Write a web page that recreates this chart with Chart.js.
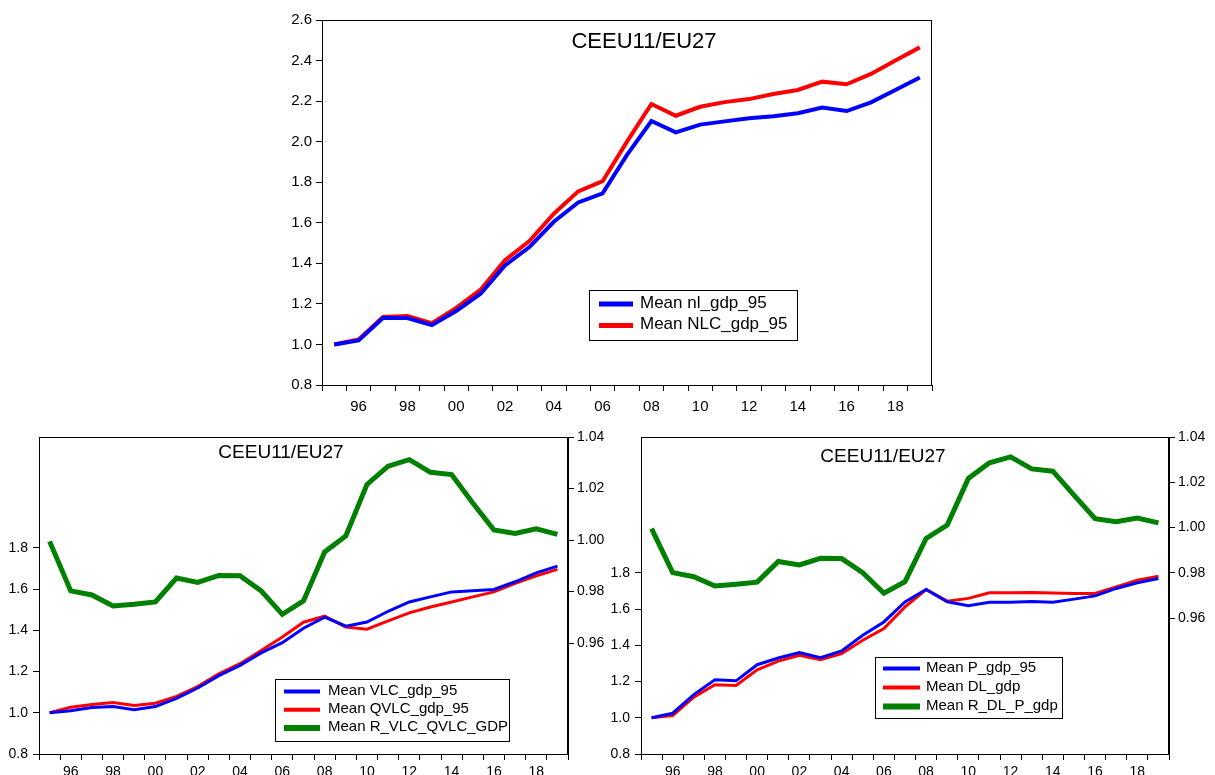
<!DOCTYPE html>
<html lang="en">
<head>
<meta charset="UTF-8">
<title>CEEU11/EU27</title>
<script src="https://cdn.jsdelivr.net/npm/chart.js"></script>
<style>
  body { margin: 0; background: #fff; width: 1215px; height: 775px; overflow: hidden; position: relative; }
  canvas { position: absolute; }
</style>
</head>
<body>
<canvas id="grafico_topo" width="700" height="420" style="left:270px;top:0px"></canvas>
<canvas id="grafico_esq" width="612" height="355" style="left:0px;top:420px"></canvas>
<canvas id="grafico_dir" width="610" height="355" style="left:605px;top:420px"></canvas>

<script>
  // anos (eixo x)
  const anos = ['1995','1996','1997','1998','1999','2000','2001','2002','2003','2004','2005','2006',
    '2007','2008','2009','2010','2011','2012','2013','2014','2015','2016','2017','2018','2019'];

  // grafico de cima
  const nlGdp95 = [1.00,1.02,1.13,1.13,1.095,1.165,1.25,1.39,1.48,1.605,1.70,1.745,
    1.935,2.102,2.046,2.084,2.10,2.115,2.125,2.14,2.168,2.151,2.194,2.255,2.316];
  const nlcGdp95 = [1.00,1.025,1.135,1.14,1.105,1.18,1.27,1.415,1.51,1.645,1.755,1.805,
    2.00,2.186,2.128,2.172,2.195,2.21,2.235,2.255,2.296,2.283,2.334,2.40,2.465];

  // grafico de baixo, esquerda
  const vlcGdp95 = [1.00,1.01,1.025,1.03,1.015,1.03,1.07,1.12,1.18,1.23,1.29,1.34,
    1.41,1.464,1.42,1.44,1.492,1.537,1.562,1.586,1.591,1.598,1.635,1.678,1.711];
  const qvlcGdp95 = [1.00,1.027,1.04,1.05,1.035,1.046,1.079,1.127,1.189,1.238,1.302,1.367,
    1.439,1.468,1.416,1.405,1.445,1.484,1.513,1.537,1.562,1.586,1.627,1.664,1.695];
  const rVlcQvlcGdp = [0.9995,0.9803,0.9787,0.9744,0.9751,0.976,0.9853,0.9836,0.9863,0.9862,0.9803,0.9712,
    0.9764,0.9954,1.0016,1.0216,1.0287,1.0312,1.0263,1.0254,1.0144,1.0039,1.0026,1.0044,1.0022];

  // grafico de baixo, direita
  const pGdp95 = [1.00,1.025,1.128,1.21,1.204,1.293,1.33,1.36,1.332,1.369,1.455,1.529,
    1.64,1.708,1.64,1.618,1.638,1.638,1.642,1.638,1.655,1.673,1.714,1.745,1.769];
  const dlGdp = [1.00,1.012,1.114,1.182,1.178,1.265,1.313,1.345,1.321,1.354,1.428,1.492,
    1.612,1.708,1.644,1.659,1.69,1.69,1.692,1.689,1.686,1.686,1.723,1.76,1.782];
  const rDlPGdp = [0.9995,0.9801,0.9783,0.9742,0.975,0.9759,0.985,0.9835,0.9864,0.9863,0.9801,0.971,
    0.9761,0.9952,1.0011,1.0217,1.0286,1.0312,1.0259,1.0249,1.0143,1.0039,1.0026,1.0042,1.0021];

  // marcas dos eixos y
  const ticksTopo = [0.8,1.0,1.2,1.4,1.6,1.8,2.0,2.2,2.4,2.6];
  const ticksEsq = [0.8,1.0,1.2,1.4,1.6,1.8];
  const ticksDir = [0.96,0.98,1.00,1.02,1.04];

  const fonte = '"Liberation Sans", Arial, sans-serif';
  const AZUL = '#0000FF', VERMELHO = '#FF0000', VERDE = '#008000';

  // moldura, titulo e legenda dentro do grafico
  const moldura = {
    id: 'moldura',
    afterDraw(chart, args, o) {
      const ctx = chart.ctx, a = chart.chartArea;
      ctx.save();
      ctx.strokeStyle = '#000';
      ctx.lineWidth = 1;
      ctx.strokeRect(Math.round(a.left) + 0.5, Math.round(a.top) + 0.5,
        Math.round(a.right - a.left) - 1, Math.round(a.bottom - a.top));

      ctx.fillStyle = '#000';
      ctx.textAlign = 'center';
      ctx.textBaseline = 'middle';
      ctx.font = o.tamTitulo + 'px ' + fonte;
      ctx.fillText('CEEU11/EU27', o.tx, o.ty);

      const L = o.leg;
      ctx.fillStyle = '#fff';
      ctx.fillRect(L.x, L.y, L.w, L.h);
      ctx.strokeStyle = '#000';
      ctx.strokeRect(L.x + 0.5, L.y + 0.5, L.w, L.h);
      ctx.font = L.tam + 'px ' + fonte;
      ctx.textAlign = 'left';
      chart.data.datasets.forEach((ds, i) => {
        const y = L.y0 + i * L.passo;
        ctx.strokeStyle = ds.borderColor;
        ctx.lineWidth = ds.borderWidth + 1;
        ctx.beginPath();
        ctx.moveTo(L.l0, y + 1);
        ctx.lineTo(L.l1, y + 1);
        ctx.stroke();
        ctx.fillStyle = '#000';
        ctx.fillText(ds.label, L.tx, y);
      });
      ctx.restore();
    }
  };

  function eixoX(tam, altura, pad) {
    return {
      type: 'category',
      offset: true,
      grid: { offset: true, drawOnChartArea: false, tickLength: 6, color: '#000' },
      border: { color: '#000' },
      ticks: {
        autoSkip: false, maxRotation: 0, padding: pad, color: '#000',
        font: { family: fonte, size: tam },
        callback: (v, i) => (+anos[i]) % 2 === 0 ? anos[i].slice(2) : ''
      },
      afterFit: s => { s.height = altura; }
    };
  }

  function eixoY(pos, min, max, marcas, casas, tam, largura, pad) {
    return {
      position: pos, min: min, max: max,
      grid: { drawOnChartArea: false, tickLength: 6, color: '#000' },
      border: { color: '#000' },
      ticks: { padding: pad, color: '#000', font: { family: fonte, size: tam }, callback: v => v.toFixed(casas) },
      afterBuildTicks: s => { s.ticks = marcas.map(v => ({ value: v })); },
      afterFit: s => { s.width = largura; }
    };
  }

  function serie(label, dados, cor, larg, eixo) {
    return { label: label, data: dados, borderColor: cor, backgroundColor: cor, borderWidth: larg,
      pointRadius: 0, tension: 0, yAxisID: eixo };
  }

  new Chart(document.getElementById('grafico_topo'), {
    type: 'line',
    data: {
      labels: anos,
      datasets: [
        serie('Mean nl_gdp_95', nlGdp95, AZUL, 4, 'y'),
        serie('Mean NLC_gdp_95', nlcGdp95, VERMELHO, 4, 'y')
      ]
    },
    options: {
      responsive: false, animation: false, devicePixelRatio: 1,
      layout: { padding: { top: 20, right: 38, left: 0, bottom: 0 } },
      plugins: {
        legend: { display: false }, tooltip: { enabled: false },
        moldura: { tamTitulo: 22, tx: 374, ty: 42,
          leg: { x: 319, y: 290, w: 208, h: 50, tam: 17, y0: 303, passo: 21.5, l0: 329, l1: 363, tx: 370 } }
      },
      scales: {
        x: eixoX(15, 35, 7),
        y: eixoY('left', 0.8, 2.6, ticksTopo, 1, 15, 52, 4)
      }
    },
    plugins: [moldura]
  });

  new Chart(document.getElementById('grafico_esq'), {
    type: 'line',
    data: {
      labels: anos,
      datasets: [
        serie('Mean VLC_gdp_95', vlcGdp95, AZUL, 3, 'y'),
        serie('Mean QVLC_gdp_95', qvlcGdp95, VERMELHO, 3, 'y'),
        serie('Mean R_VLC_QVLC_GDP', rVlcQvlcGdp, VERDE, 5, 'y2')
      ]
    },
    options: {
      responsive: false, animation: false, devicePixelRatio: 1,
      layout: { padding: { top: 17, right: 0, left: 0, bottom: 0 } },
      plugins: {
        legend: { display: false }, tooltip: { enabled: false },
        moldura: { tamTitulo: 19, tx: 281, ty: 33,
          leg: { x: 275, y: 259, w: 234, h: 62, tam: 15, y0: 270.5, passo: 18.3, l0: 284, l1: 320, tx: 328 } }
      },
      scales: {
        x: eixoX(14, 21, 4),
        y: eixoY('left', 0.8, 2.337, ticksEsq, 1, 14, 39, 5),
        y2: eixoY('right', 0.917, 1.04, ticksDir, 2, 14, 44, 3)
      }
    },
    plugins: [moldura]
  });

  new Chart(document.getElementById('grafico_dir'), {
    type: 'line',
    data: {
      labels: anos,
      datasets: [
        serie('Mean P_gdp_95', pGdp95, AZUL, 3, 'y'),
        serie('Mean DL_gdp', dlGdp, VERMELHO, 3, 'y'),
        serie('Mean R_DL_P_gdp', rDlPGdp, VERDE, 5, 'y2')
      ]
    },
    options: {
      responsive: false, animation: false, devicePixelRatio: 1,
      layout: { padding: { top: 17, right: 0, left: 0, bottom: 0 } },
      plugins: {
        legend: { display: false }, tooltip: { enabled: false },
        moldura: { tamTitulo: 19, tx: 278, ty: 37,
          leg: { x: 270, y: 237, w: 187, h: 61, tam: 15, y0: 247.5, passo: 19, l0: 278, l1: 315, tx: 321 } }
      },
      scales: {
        x: eixoX(14, 21, 4),
        y: eixoY('left', 0.8, 2.55, ticksEsq, 1, 14, 36, 5),
        y2: eixoY('right', 0.9, 1.04, ticksDir, 2, 14, 46, 3)
      }
    },
    plugins: [moldura]
  });
</script>
</body>
</html>
